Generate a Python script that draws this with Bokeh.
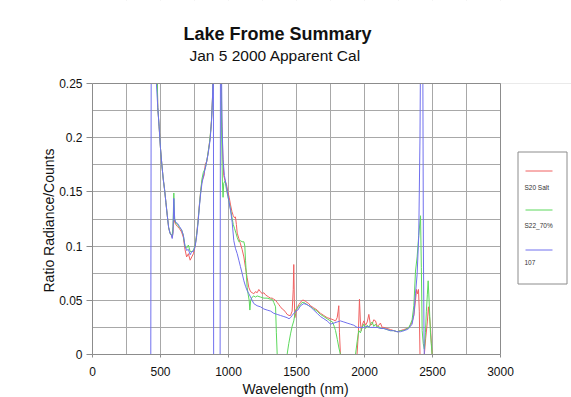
from bokeh.plotting import figure
from bokeh.models import FixedTicker, ColumnDataSource, Title
from bokeh.embed import file_html
from bokeh.resources import INLINE
from bokeh.core.properties import value

# ---------------- data ----------------
chart_title = "Lake Frome Summary"
chart_subtitle = "Jan 5 2000 Apparent Cal"
x_label = "Wavelength (nm)"
y_label = "Ratio Radiance/Counts"
series_names = ["S20 Salt", "S22_70%", "107"]
series_colors = ["#f06060", "#5cd85c", "#7070ee"]

x_ticks = [0, 500, 1000, 1500, 2000, 2500, 3000]
x_minor = [250, 750, 1250, 1750, 2250, 2750]
y_ticks = [0, 0.05, 0.1, 0.15, 0.2, 0.25]
y_tick_labels = ["0", "0.05", "0.1", "0.15", "0.2", "0.25"]
y_minor = [0.025, 0.075, 0.125, 0.175, 0.225]

s20_wl = [470, 480, 490, 500, 510, 520, 530, 540, 550, 560, 570, 580, 586, 592, 598, 604, 612, 625, 640, 655,
          668, 680, 692, 705, 718, 730, 742, 755, 765, 775, 785, 795, 805, 820, 830, 840, 850, 865, 875, 882,
          887, 895, 915, 935, 945, 950, 958, 965, 975, 985, 995, 1005, 1015, 1025, 1035, 1045, 1051, 1058, 1064,
          1076, 1088, 1100, 1113, 1125, 1137, 1149, 1162, 1174, 1186, 1198, 1211, 1223, 1235, 1248, 1260, 1272,
          1284, 1296, 1309, 1321, 1333, 1346, 1358, 1370, 1382, 1395, 1407, 1420, 1431, 1445, 1456, 1468, 1476,
          1480, 1484, 1488, 1495, 1505, 1517, 1529, 1541, 1554, 1566, 1578, 1590, 1603, 1627, 1652, 1676, 1701,
          1725, 1750, 1770, 1787, 1799, 1806, 1811, 1816, 1823, 1945, 1955, 1963, 1970, 1976, 1986, 1995, 2008,
          2020, 2032, 2044, 2056, 2068, 2081, 2093, 2105, 2117, 2130, 2142, 2166, 2191, 2215, 2240, 2264, 2289,
          2313, 2326, 2338, 2350, 2363, 2375, 2383, 2390, 2397, 2403, 2408, 2440, 2450, 2462, 2470, 2478, 2485,
          2492, 2497]
s20_val = [0.3, 0.228, 0.21, 0.19, 0.175, 0.162, 0.152, 0.14, 0.128, 0.117, 0.112, 0.11, 0.108, 0.113, 0.13,
           0.122, 0.12, 0.118, 0.116, 0.113, 0.108, 0.097, 0.09, 0.093, 0.087, 0.09, 0.093, 0.1, 0.11, 0.122,
           0.137, 0.15, 0.16, 0.165, 0.176, 0.178, 0.186, 0.2, 0.216, 0.236, 0.26, 0.3, 0.3, 0.3, 0.27, 0.22,
           0.185, 0.165, 0.16, 0.157, 0.15, 0.145, 0.138, 0.132, 0.128, 0.126, 0.127, 0.12, 0.112, 0.107, 0.102,
           0.097, 0.09, 0.08, 0.071, 0.062, 0.058, 0.057, 0.056, 0.058, 0.057, 0.06, 0.058, 0.056, 0.057, 0.055,
           0.054, 0.053, 0.052, 0.052, 0.051, 0.05, 0.048, 0.046, 0.044, 0.042, 0.041, 0.039, 0.037, 0.036,
           0.036, 0.04, 0.06, 0.083, 0.05, 0.034, 0.038, 0.043, 0.046, 0.048, 0.05, 0.05, 0.049, 0.048, 0.047,
           0.045, 0.043, 0.041, 0.038, 0.036, 0.034, 0.033, 0.032, 0.031, 0.034, 0.04, 0.045, 0.02, 0.0, 0.0,
           0.02, 0.051, 0.03, 0.022, 0.028, 0.031, 0.027, 0.03, 0.037, 0.027, 0.028, 0.032, 0.031, 0.026, 0.027,
           0.029, 0.025, 0.025, 0.024, 0.023, 0.022, 0.021, 0.022, 0.023, 0.024, 0.025, 0.027, 0.03, 0.036, 0.05,
           0.06, 0.056, 0.06, 0.04, 0.0, 0.0, 0.015, 0.03, 0.044, 0.035, 0.025, 0.01, 0.0]

s22_wl = [470, 480, 490, 500, 510, 520, 530, 540, 550, 560, 570, 580, 586, 592, 598, 604, 612, 625, 640, 655,
          668, 680, 692, 705, 718, 730, 742, 755, 765, 775, 785, 795, 805, 815, 830, 845, 860, 872, 880, 887,
          895, 915, 935, 945, 950, 955, 960, 965, 975, 985, 995, 1005, 1015, 1025, 1035, 1045, 1055, 1064, 1076,
          1088, 1100, 1113, 1120, 1125, 1137, 1145, 1152, 1157, 1163, 1174, 1186, 1198, 1211, 1235, 1260, 1284,
          1309, 1321, 1333, 1346, 1352, 1358, 1431, 1443, 1456, 1468, 1480, 1493, 1505, 1517, 1529, 1541, 1554,
          1578, 1603, 1627, 1652, 1676, 1701, 1725, 1750, 1765, 1777, 1787, 1800, 1812, 1823, 1934, 1946, 1958,
          1970, 1983, 1995, 2008, 2020, 2032, 2044, 2056, 2068, 2081, 2093, 2105, 2117, 2142, 2166, 2191, 2215,
          2240, 2264, 2289, 2313, 2326, 2338, 2350, 2363, 2375, 2387, 2399, 2412, 2418, 2424, 2432, 2440, 2448,
          2455, 2462, 2468, 2475, 2485, 2492, 2497]
s22_val = [0.3, 0.228, 0.21, 0.19, 0.175, 0.162, 0.152, 0.14, 0.128, 0.117, 0.112, 0.11, 0.11, 0.118, 0.149,
           0.125, 0.121, 0.12, 0.117, 0.115, 0.11, 0.1, 0.098, 0.101, 0.095, 0.095, 0.096, 0.101, 0.11, 0.121,
           0.136, 0.15, 0.162, 0.168, 0.172, 0.182, 0.195, 0.21, 0.228, 0.255, 0.3, 0.3, 0.3, 0.26, 0.2, 0.16,
           0.145, 0.158, 0.16, 0.152, 0.146, 0.14, 0.134, 0.127, 0.12, 0.116, 0.112, 0.108, 0.104, 0.105, 0.104,
           0.104, 0.1, 0.087, 0.062, 0.055, 0.05, 0.041, 0.05, 0.053, 0.054, 0.053, 0.054, 0.053, 0.052, 0.052,
           0.051, 0.051, 0.048, 0.044, 0.02, 0.0, 0.0, 0.01, 0.019, 0.026, 0.031, 0.041, 0.043, 0.044, 0.046,
           0.048, 0.048, 0.046, 0.044, 0.042, 0.04, 0.037, 0.035, 0.033, 0.031, 0.03, 0.026, 0.022, 0.014, 0.006,
           0.0, 0.0, 0.012, 0.022, 0.02, 0.025, 0.028, 0.024, 0.027, 0.025, 0.028, 0.03, 0.026, 0.028, 0.025,
           0.026, 0.024, 0.024, 0.023, 0.022, 0.022, 0.021, 0.022, 0.022, 0.024, 0.025, 0.028, 0.032, 0.045,
           0.077, 0.09, 0.11, 0.128, 0.08, 0.022, 0.01, 0.005, 0.02, 0.04, 0.055, 0.068, 0.05, 0.02, 0.008, 0.0]

s107_wl = [428, 432, 460, 470, 480, 490, 500, 510, 520, 530, 540, 550, 560, 570, 580, 586, 592, 598, 604, 612,
           625, 640, 655, 668, 680, 692, 705, 718, 730, 742, 755, 765, 775, 785, 795, 805, 820, 835, 850, 865,
           875, 882, 887, 889, 891, 938, 941, 947, 953, 960, 970, 985, 1002, 1015, 1027, 1039, 1051, 1064, 1076,
           1088, 1100, 1113, 1125, 1137, 1150, 1162, 1174, 1186, 1210, 1235, 1260, 1284, 1310, 1333, 1358, 1382,
           1407, 1431, 1445, 1456, 1468, 1480, 1495, 1510, 1530, 1554, 1578, 1603, 1627, 1652, 1676, 1701, 1725,
           1750, 1775, 1799, 1823, 1848, 1872, 1897, 1921, 1946, 1970, 1995, 2020, 2044, 2068, 2093, 2117, 2142,
           2166, 2191, 2215, 2240, 2264, 2289, 2313, 2326, 2338, 2350, 2363, 2375, 2387, 2399, 2408, 2413, 2428,
           2433, 2438, 2443]
s107_val = [-0.05, 0.3, 0.3, 0.25, 0.228, 0.21, 0.19, 0.175, 0.162, 0.152, 0.14, 0.128, 0.117, 0.112, 0.11,
            0.107, 0.112, 0.144, 0.125, 0.122, 0.121, 0.118, 0.115, 0.11, 0.1, 0.096, 0.097, 0.092, 0.095, 0.095,
            0.1, 0.108, 0.12, 0.135, 0.148, 0.158, 0.167, 0.175, 0.185, 0.198, 0.215, 0.235, 0.26, 0.3, -0.05,
            -0.05, 0.3, 0.28, 0.21, 0.18, 0.165, 0.155, 0.142, 0.133, 0.122, 0.105, 0.098, 0.093, 0.087, 0.081,
            0.075, 0.068, 0.063, 0.059, 0.056, 0.053, 0.05, 0.047, 0.045, 0.044, 0.042, 0.041, 0.04, 0.038, 0.037,
            0.036, 0.035, 0.034, 0.033, 0.034, 0.036, 0.038, 0.04, 0.041, 0.045, 0.047, 0.046, 0.044, 0.041,
            0.038, 0.035, 0.033, 0.031, 0.028, 0.029, 0.03, 0.031, 0.03, 0.029, 0.028, 0.027, 0.025, 0.025, 0.025,
            0.026, 0.025, 0.025, 0.025, 0.024, 0.024, 0.023, 0.022, 0.022, 0.021, 0.021, 0.022, 0.023, 0.024,
            0.026, 0.028, 0.037, 0.056, 0.074, 0.11, 0.2, 0.3, 0.3, 0.1, 0.01, -0.02]

series_wl = [s20_wl, s22_wl, s107_wl]
series_val = [s20_val, s22_val, s107_val]

# ---------------- layout constants (pixels) ----------------
W, H = 571, 397
AREA_L, AREA_R, AREA_T, AREA_B = 92, 500, 83, 354     # plot area box
X_MAX, Y_MAX = 3000, 0.25                              # axis extents inside the box

FONT = "Liberation Sans"
GRID = "#a8a8a8"
FRAME = "#8c8c8c"
INK = "#111111"


def dx(px):
    """canvas x pixel -> wavelength units"""
    return (px - AREA_L) * X_MAX / (AREA_R - AREA_L)


def dy(py):
    """canvas y pixel -> ratio units"""
    return (AREA_B - py) * Y_MAX / (AREA_B - AREA_T)


# the frame reaches the top and right canvas edges so titles and legend can live inside it
p = figure(width=W, height=H, x_range=(0, dx(W)), y_range=(0, dy(0)),
           output_backend="svg", toolbar_location=None,
           min_border_left=AREA_L, min_border_right=0, min_border_top=0,
           min_border_bottom=H - AREA_B,
           background_fill_color="white", border_fill_color="white")
p.title.text = ""
p.outline_line_color = None

p.xaxis.ticker = FixedTicker(ticks=x_ticks, minor_ticks=x_minor)
p.yaxis.ticker = FixedTicker(ticks=y_ticks, minor_ticks=y_minor)
p.yaxis.major_label_overrides = {t: s for t, s in zip(y_ticks, y_tick_labels)}
p.xaxis.bounds = (0, X_MAX)
p.yaxis.bounds = (0, Y_MAX)

for ax in (p.xaxis, p.yaxis):
    ax.axis_line_color = FRAME
    ax.major_tick_line_color = FRAME
    ax.minor_tick_line_color = None
    ax.major_tick_in = 0
    ax.major_label_text_font = FONT
    ax.major_label_text_font_size = "12px"
    ax.major_label_text_color = INK
    ax.axis_label = None

p.xaxis.major_tick_out = 3
p.xaxis.major_label_standoff = 8
p.yaxis.major_tick_out = 6
p.yaxis.major_label_standoff = 4

# axis titles, anchored at their start so they sit centred on the plot box
p.add_layout(Title(text=y_label, align="left", offset=AREA_B - 292, standoff=0,
                   text_font=FONT, text_font_size="14px", text_font_style="normal",
                   text_color=INK), "left")
p.add_layout(Title(text=x_label, align="left", offset=242 - AREA_L, standoff=0,
                   text_font=FONT, text_font_size="14px", text_font_style="normal",
                   text_color=INK), "below")

for g in (p.xgrid, p.ygrid):
    g.grid_line_color = GRID
    g.minor_grid_line_color = GRID
    g.grid_line_width = 1
    g.minor_grid_line_width = 1

# spectra
for wl, val, col in zip(series_wl, series_val, series_colors):
    p.line(wl, val, line_color=col, line_width=1.0)

# white cover outside the plot box (hides off-scale excursions and grid overflow)
p.quad(left=[0, X_MAX], right=[dx(W) + 50, dx(W) + 50], bottom=[Y_MAX, 0], top=[dy(0) + 0.05, Y_MAX],
       fill_color="white", line_color=None)
# plot box
p.quad(left=[0], right=[X_MAX], bottom=[0], top=[Y_MAX], fill_color=None, line_color=FRAME, line_width=1)

# titles
p.text(x=[dx(183)], y=[dy(33.3)], text=[chart_title], text_font=value(FONT), text_font_size="18px",
       text_font_style="bold", text_color=INK, text_baseline="alphabetic", text_align="left")
p.text(x=[dx(189)], y=[dy(55)], text=[chart_subtitle], text_font=value(FONT), text_font_size="15.5px",
       text_color=INK, text_baseline="alphabetic", text_align="left")

# legend box with a sample line above each name
p.quad(left=[dx(517.5)], right=[dx(566.5)], bottom=[dy(283.5)], top=[dy(151.5)], fill_color="white",
       line_color=FRAME, line_width=1)
line_py = [170.5, 209.5, 249.5]
text_py = [187, 225, 262]
for col, ly in zip(series_colors, line_py):
    p.line([dx(525), dx(552)], [dy(ly), dy(ly)], line_color=col, line_width=1.0)
src = ColumnDataSource(dict(x=[dx(524)] * 3, y=[dy(t) for t in text_py], t=series_names))
p.text(x="x", y="y", text="t", source=src, text_font=value(FONT), text_font_size="6.5px",
       text_color="#333333", text_baseline="middle", text_align="left")

open("out.html", "w").write(file_html(p, INLINE))
